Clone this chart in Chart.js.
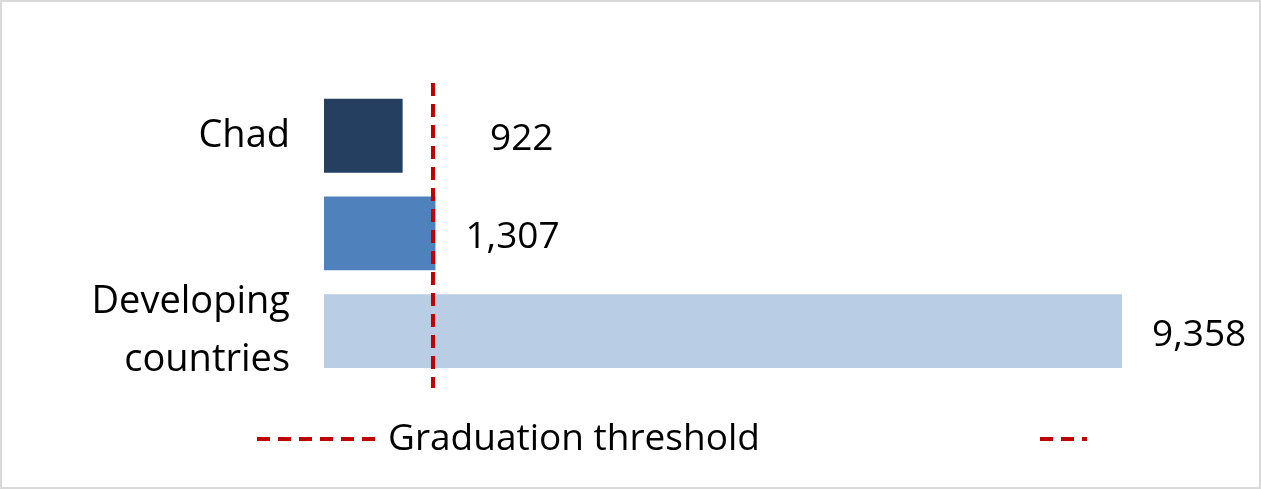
<!DOCTYPE html>
<html><head><meta charset="utf-8">
<script src="https://cdn.jsdelivr.net/npm/chart.js@4"></script>
<style>html,body{margin:0;padding:0;background:#fff}#w{width:1261px;height:489px;position:relative;box-sizing:border-box;border:2px solid #d9d9d9}</style>
</head><body><div id="w"><canvas id="c"></canvas></div>
<script>
const categories = [["Chad"], ["LDCs"], ["Developing", "countries"]];
const values = [922, 1307, 9358];
const valueLabels = ["922", "1,307", "9,358"];
const threshold = 1278;
const colors = ["#243F60", "#4F81BD", "#B9CDE5"];
const FONT = "'Open Sans', sans-serif";

const overlay = {
  id: 'overlay',
  afterDatasetsDraw(chart) {
    const ctx = chart.ctx, x = chart.scales.x, meta = chart.getDatasetMeta(0);
    const tx = x.getPixelForValue(threshold);
    ctx.save();
    ctx.strokeStyle = '#C00000'; ctx.lineWidth = 4; ctx.setLineDash([13, 8]);
    ctx.beginPath(); ctx.moveTo(tx, chart.chartArea.top - 4); ctx.lineTo(tx, chart.chartArea.bottom + 8); ctx.stroke();
    ctx.beginPath(); ctx.moveTo(255, 437); ctx.lineTo(380, 437); ctx.stroke();
    ctx.beginPath(); ctx.moveTo(1038, 437); ctx.lineTo(1085, 437); ctx.stroke();
    ctx.setLineDash([]);
    ctx.fillStyle = '#000'; ctx.font = '37px ' + FONT; ctx.textBaseline = 'middle';
    ctx.fillText('Graduation threshold', 386, 437);
    meta.data.forEach((b, i) => {
      const lx = b.x < tx ? tx + 57 : b.x + 30;
      ctx.fillText(valueLabels[i], lx, b.y + 4);
    });
    ctx.restore();
  }
};

new Chart(document.getElementById('c'), {
  type: 'bar',
  data: { labels: categories, datasets: [{ data: values, backgroundColor: colors, barPercentage: 0.755, categoryPercentage: 1 }] },
  options: {
    indexAxis: 'y', responsive: true, maintainAspectRatio: false, animation: false,
    layout: { padding: { top: 60, bottom: 107, right: 137, left: 0 } },
    plugins: { legend: { display: false }, tooltip: { enabled: false } },
    scales: {
      x: { display: false, min: 0, max: 9358 },
      y: { grid: { display: false }, border: { display: false },
           ticks: { color: '#000', font: { family: FONT, size: 38, lineHeight: 1.55 }, padding: 26 },
           afterFit(s) { s.width = 322; } }
    }
  },
  plugins: [overlay]
});
</script></body></html>
